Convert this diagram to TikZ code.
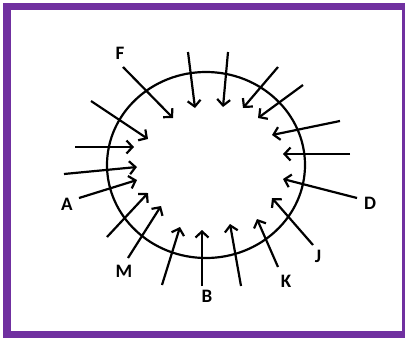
\documentclass[tikz,border=0pt]{standalone}
\usepackage{fontspec}
\setmainfont{Carlito}
\usetikzlibrary{arrows.meta}
\definecolor{framepurple}{RGB}{112,48,160}
\begin{document}
\begin{tikzpicture}[x=1pt,y=-1pt,
  inarrow/.style={line width=2.2pt,-{Straight Barb[length=6pt,width=13pt]}},
  lbl/.style={font=\bfseries\fontsize{19}{19}\selectfont,inner sep=0pt}]
\useasboundingbox (0,0) rectangle (405,338);
\fill[framepurple] (3,3) rectangle (405,338);
\fill[white] (11,10) rectangle (402,331);
\draw[line width=2.2pt] (206,165) ellipse [x radius=99,y radius=93];
% labels
\node[lbl] (F) at (120,53) {F};
\node[lbl] (A) at (67,204) {A};
\node[lbl] (M) at (124,271) {M};
\node[lbl] (B) at (207,296) {B};
\node[lbl] (K) at (286,281) {K};
\node[lbl] (J) at (318,256) {J};
\node[lbl] (D) at (370,203) {D};
% tails and heads
\coordinate (t1) at (123,67);   \coordinate (h1) at (173,118);
\coordinate (t2) at (188,52);   \coordinate (h2) at (195,108);
\coordinate (t3) at (228,52);   \coordinate (h3) at (223,107);
\coordinate (t4) at (278,67);   \coordinate (h4) at (243,108);
\coordinate (t5) at (303,85);   \coordinate (h5) at (258,118);
\coordinate (t6) at (340,121);  \coordinate (h6) at (272,135);
\coordinate (t7) at (350,154);  \coordinate (h7) at (283,154);
\coordinate (t8) at (357,198);  \coordinate (h8) at (283,179);
\coordinate (t9) at (313,245);  \coordinate (h9) at (272,198);
\coordinate (t10) at (278,267); \coordinate (h10) at (257,219);
\coordinate (t11) at (241,286); \coordinate (h11) at (230,224);
\coordinate (t12) at (202,286); \coordinate (h12) at (202,230);
\coordinate (t13) at (162,285); \coordinate (h13) at (180,227);
\coordinate (t14) at (128,258); \coordinate (h14) at (161,206);
\coordinate (t15) at (107,237); \coordinate (h15) at (148,193);
\coordinate (t16) at (79,198);  \coordinate (h16) at (137,180);
\coordinate (t17) at (64,174);  \coordinate (h17) at (137,167);
\coordinate (t18) at (75,147);  \coordinate (h18) at (134,147);
\coordinate (t19) at (91,101);  \coordinate (h19) at (148,139);
\foreach \i in {1,...,19} {\draw[inarrow] (t\i) -- (h\i);}
\end{tikzpicture}
\end{document}
